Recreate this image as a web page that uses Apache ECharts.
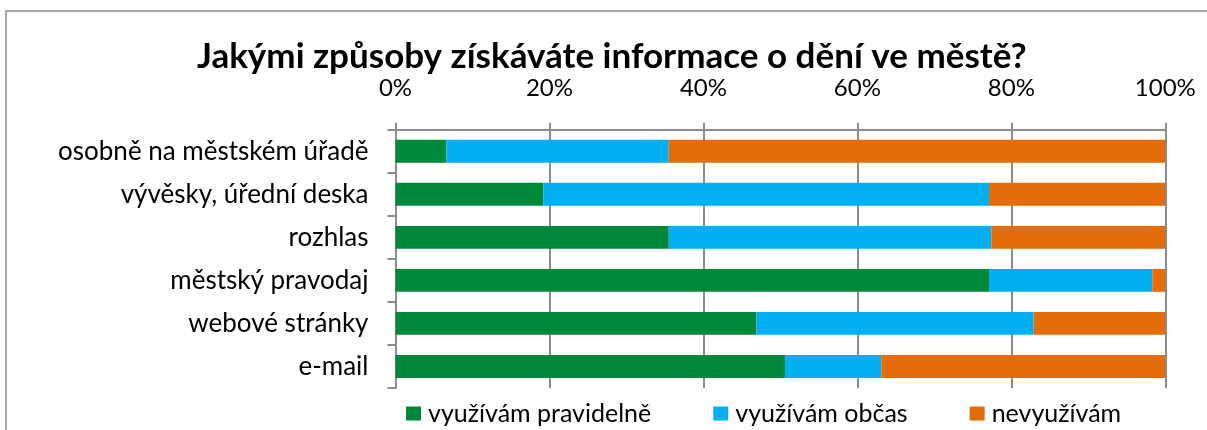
<!DOCTYPE html>
<html>
<head>
    <meta charset="utf-8">
    <title>ECharts</title>
    <style>
        html, body { margin:0; padding:0; background:#fff; }
    </style>
</head>
<body>
<div id="main" style="width:1207px;height:430px;"></div>
</body>
<script src="https://cdn.jsdelivr.net/npm/echarts@6/dist/echarts.min.js" type="text/javascript"></script>
<script type="text/javascript">

var categories=['osobně na městském úřadě','vývěsky, úřední deska','rozhlas','městský pravodaj','webové stránky','e-mail'];
var pravidelne=[6.6,19.2,35.5,77.1,46.9,50.6];
var obcas=[28.9,57.9,41.9,21.2,36.0,12.5];
var nevyuzivam=[64.5,22.9,22.6,1.7,17.1,36.9];
var seriesNames=['využívám pravidelně','využívám občas','nevyužívám'];
var colors=['#00883a','#00b0f0','#e46c0a'];

var font='Lato';
var myChart=echarts.init(document.getElementById('main'));

var option={
    animation:false,
    color:colors,
    title:{
        text:'Jakými způsoby získáváte informace o dění ve městě?',
        left:197,
        top:39,
        padding:0,
        textStyle:{fontFamily:font,fontSize:35,fontWeight:'bold',color:'#000'}
    },
    legend:{
        top:401,
        left:406,
        padding:0,
        itemWidth:15,
        itemHeight:14,
        itemGap:62,
        icon:'rect',
        textStyle:{fontFamily:font,fontSize:25,color:'#000',padding:[0,0,0,2]},
        data:seriesNames
    },
    graphic:[{
        type:'rect',
        shape:{x:6,y:11,width:1400,height:600},
        style:{fill:null,stroke:'#888',lineWidth:1.5},
        silent:true
    }],
    grid:{left:395.5,right:41.7,top:129.7,bottom:42},
    xAxis:{
        type:'value',
        position:'top',
        min:0,max:100,interval:20,
        axisLine:{show:true,lineStyle:{color:'#8c8c8c',width:2}},
        axisTick:{show:true,length:7,lineStyle:{color:'#8c8c8c',width:2}},
        splitLine:{show:true,lineStyle:{color:'#8c8c8c',width:2}},
        axisLabel:{formatter:'{value}%',fontFamily:font,fontSize:24,color:'#000',margin:29}
    },
    yAxis:{
        type:'category',
        inverse:true,
        data:categories,
        axisLine:{show:true,lineStyle:{color:'#8c8c8c',width:2}},
        axisTick:{show:true,length:8,lineStyle:{color:'#8c8c8c',width:2}},
        axisLabel:{fontFamily:font,fontSize:26,color:'#000',margin:27}
    },
    series:[
        {name:seriesNames[0],type:'bar',stack:'a',barCategoryGap:'47%',data:pravidelne},
        {name:seriesNames[1],type:'bar',stack:'a',data:obcas},
        {name:seriesNames[2],type:'bar',stack:'a',data:nevyuzivam}
    ]
};

myChart.setOption(option);
</script>
</html>
